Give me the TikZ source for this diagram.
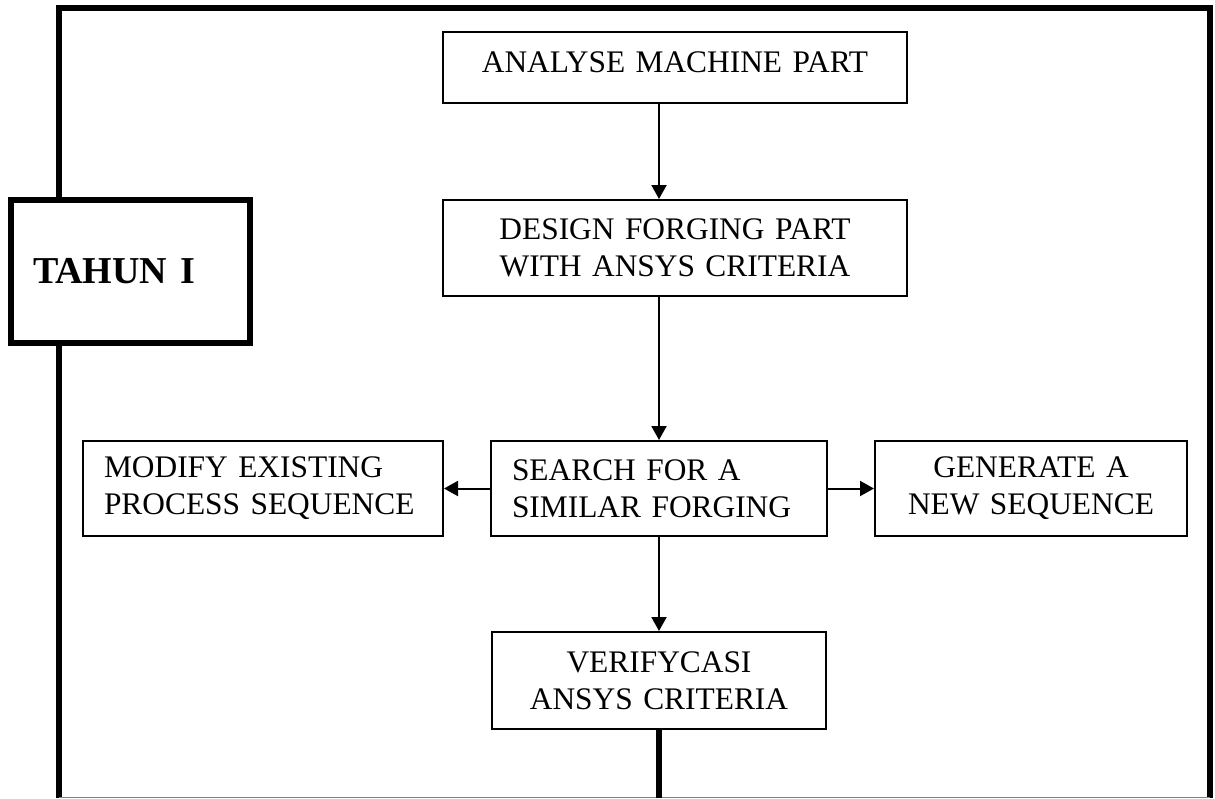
\documentclass[tikz,border=0pt]{standalone}
\usepackage{fontspec}
\setmainfont{Liberation Serif}
\usetikzlibrary{arrows.meta}
\begin{document}
\begin{tikzpicture}[x=0.5pt,y=-0.5pt,
		box/.style={draw,line width=1pt,inner sep=0pt,font=\fontsize{15.7}{18.5}\selectfont},
		mid/.style={box,align=center,text width=#1},
		lft/.style={box,align=left,inner xsep=10.5pt,text width=#1},
		flow/.style={line width=1pt,-{Triangle[length=7pt,width=7.5pt]}},
		heavy/.style={line width=3pt}]
	\useasboundingbox (0,0) rectangle (1215,798);
	\draw[heavy] (59,798) -- (59,8) -- (1210,8) -- (1210,798);
	\draw[gray,line width=0.6pt] (59,797.5) -- (1210,797.5);
	\node[box,heavy,fill=white,align=left,inner xsep=11pt,text width=97.5pt,minimum height=71.5pt,font=\fontsize{19}{22}\selectfont\bfseries] (tahun) at (130.5,271.5) {TAHUN I};
	\node[mid=232pt,minimum height=35.5pt,text depth=5pt] (analyse) at (675,67.5) {ANALYSE MACHINE PART};
	\node[mid=232pt,minimum height=48pt] (design) at (675,248) {DESIGN FORGING PART\\WITH ANSYS CRITERIA};
	\node[lft=147pt,minimum height=47.5pt] (search) at (659,488.5) {SEARCH FOR A\\SIMILAR FORGING};
	\node[lft=159pt,minimum height=47.5pt] (modify) at (263,488.5) {MODIFY EXISTING\\PROCESS SEQUENCE};
	\node[mid=156pt,minimum height=47.5pt] (generate) at (1031,488.5) {GENERATE A\\NEW SEQUENCE};
	\node[mid=167pt,minimum height=48.5pt] (verify) at (659,680.5) {VERIFYCASI\\ANSYS CRITERIA};
	\coordinate (out) at (659,798);
	\draw[flow] (search |- analyse.south) -- (search |- design.north);
	\draw[flow] (search |- design.south) -- (search);
	\draw[flow] (search) -- (modify);
	\draw[flow] (search) -- (generate);
	\draw[flow] (search) -- (verify);
	\draw[heavy] (verify) -- (out);
\end{tikzpicture}
\end{document}
